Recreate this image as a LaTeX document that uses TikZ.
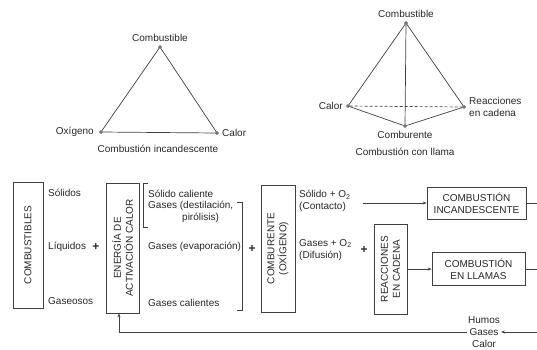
\documentclass[tikz,border=0pt]{standalone}
\usepackage{fontspec}
\setmainfont{Liberation Sans}
\usetikzlibrary{arrows.meta}
\begin{document}
\begin{tikzpicture}[x=1pt, y=-1pt, font=\fontsize{10}{12}\selectfont, text=black!85,
	vert/.style={circle, draw=black!70, fill=black!40, inner sep=0pt, minimum size=3pt},
	side/.style={draw=black!75, line width=0.7pt},
	box/.style={draw=black!75, line width=0.7pt, inner sep=1pt, align=center},
	upbox/.style={box, rotate=90},
	txt/.style={inner sep=0pt, anchor=west, align=left},
	plus/.style={font=\large\bfseries},
	arr/.style={draw=black!75, line width=0.7pt, -{Stealth[length=4pt, width=3pt]}}]

			\useasboundingbox (0,0) rectangle (537,349);

			% triangulo
			\node[vert, label=above:Combustible] at (160,47) (comb1) {};
			\node[vert, label={[label distance=2pt]left:Oxígeno}] at (101,132) (oxi1) {};
			\node[vert, label=right:Calor] at (217,133) (cal1) {};
			\node at (158,149) (tit1) {Combustión incandescente};

			\path
			(comb1) edge[side] (oxi1)
			(comb1) edge[side] (cal1)
			(oxi1) edge[side] (cal1);

			% tetraedro
			\node[vert, label=above:Combustible] at (406,23) (comb2) {};
			\node[vert, label=left:Calor] at (348,106) (cal2) {};
			\node[vert, label={[align=left]right:Reacciones\\en cadena}] at (464,107) (reac2) {};
			\node[vert, label=below:Comburente] at (405,126) (ox2) {};
			\node at (405,152) (tit2) {Combustión con llama};

			\path
			(comb2) edge[side] (cal2)
			(comb2) edge[side] (reac2)
			(comb2) edge[side] (ox2)
			(cal2) edge[side] (ox2)
			(reac2) edge[side] (ox2)
			(cal2) edge[side, densely dashed] (reac2);

			% esquema
			\node[upbox, minimum width=126pt, minimum height=30pt] at (28,245) (comb) {COMBUSTIBLES};
			\node[txt] at (48,193) (sol) {Sólidos};
			\node[txt] at (48,247) (liq) {Líquidos};
			\node[txt] at (48,301) (gas) {Gaseosos};
			\node[plus] at (96,247) (mas1) {+};

			\node[upbox, minimum width=130pt, minimum height=33pt] at (122.5,248) (energia) {ENERGÍA DE\\ACTIVACIÓN CALOR};
			\node[txt] at (148,194) (solcal) {Sólido caliente};
			\node[txt] at (148,206) (gdes) {Gases (destilación,};
			\node[txt] at (182,218) (piro) {pirólisis)};
			\node[txt] at (148,247) (gevap) {Gases (evaporación)};
			\node[txt] at (148,303) (gcal) {Gases calientes};
			\draw[side] (148,183) -- (143,183) -- (143,227) -- (148,227);
			\draw[side] (237,202) -- (242,202) -- (242,310) -- (237,310);
			\node[plus] at (252,249) (mas2) {+};

			\node[upbox, minimum width=127pt, minimum height=34pt] at (278,248.5) (comburente) {COMBURENTE\\(OXÍGENO)};
			\node[txt] at (299,201) (solox) {Sólido + O\textsubscript{2}\\(Contacto)};
			\node[txt] at (299,250) (gasox) {Gases + O\textsubscript{2}\\(Difusión)};
			\node[plus] at (364,250) (mas3) {+};

			\node[upbox, minimum width=90pt, minimum height=33pt] at (390.5,269) (reac) {REACCIONES\\EN CADENA};
			\node[box, minimum width=99pt, minimum height=32pt] at (476.5,203) (cinc) {COMBUSTIÓN\\INCANDESCENTE};
			\node[box, minimum width=93pt, minimum height=33pt] at (478.5,269) (cllam) {COMBUSTIÓN\\EN LLAMAS};
			\node[align=center, inner sep=1pt] at (484,332) (humos) {Humos\\Gases\\Calor};

			\coordinate (ini) at (363,203);
			\coordinate (der) at (537,332);
			\coordinate (ret) at (119,332);

			\draw[arr] (ini) -- (cinc);
			\draw[arr] (reac) -- (cllam);
			\draw[side] (cinc) -- (cinc -| der);
			\draw[side] (cllam) -- (cllam -| der);
			\draw[arr] (der) -- (humos);
			\draw[arr] (humos) -- (ret) -- (ret |- energia.west);
		\end{tikzpicture}
\end{document}
